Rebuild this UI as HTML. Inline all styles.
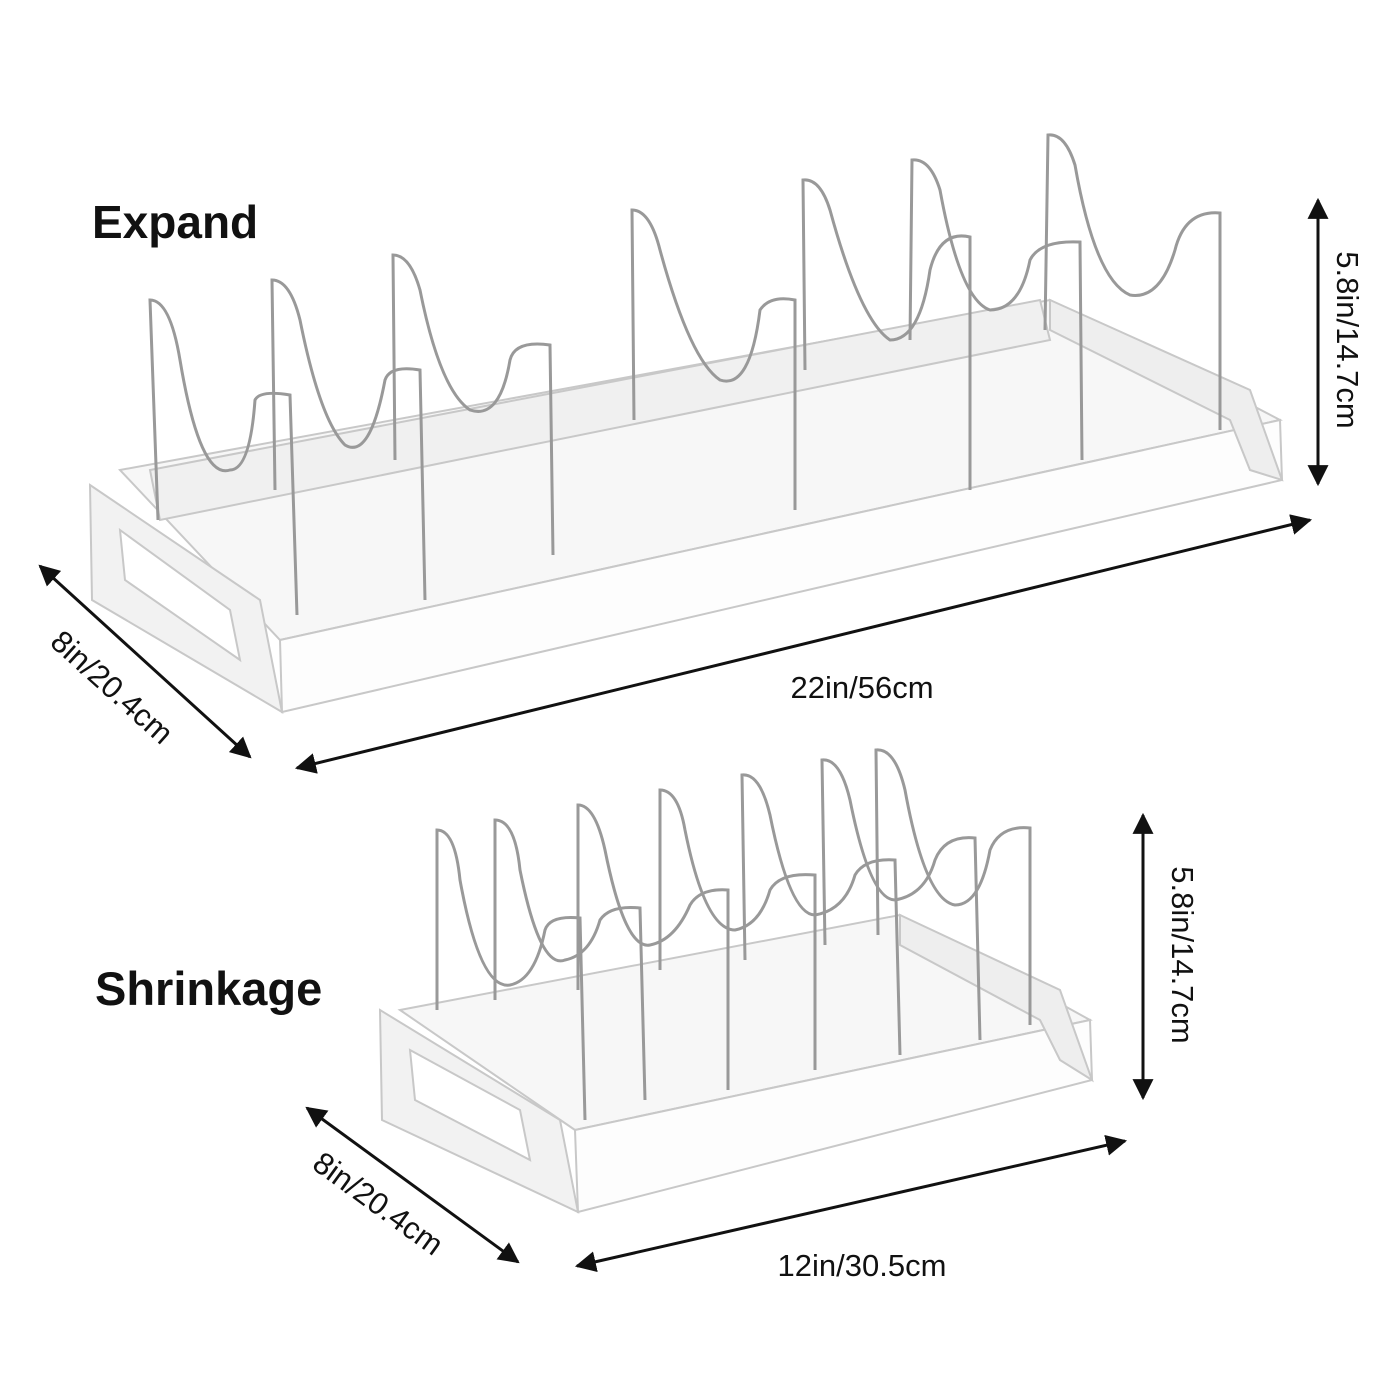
<!DOCTYPE html>
<html><head><meta charset="utf-8"><style>
html,body{margin:0;padding:0;background:#fff;}
svg{display:block}
text{font-family:"Liberation Sans",sans-serif;fill:#111}
</style></head><body>
<svg width="1400" height="1400" viewBox="0 0 1400 1400" xmlns="http://www.w3.org/2000/svg">
<defs>
<marker id="a" viewBox="0 0 10 10" refX="9" refY="5" markerWidth="7" markerHeight="7" orient="auto-start-reverse"><path d="M0,0 L10,5 L0,10 z" fill="#111"/></marker>
</defs>

<g stroke="#c8c8c8" stroke-width="2" fill="#fff">
  <polygon points="120,470 1050,300 1280,420 280,640" fill="#f7f7f7"/>
  <polygon points="280,640 1280,420 1282,480 282,712" fill="#fdfdfd"/>
  <polygon points="90,485 260,600 282,712 92,600" fill="#f2f2f2"/>
  <polygon points="120,530 230,610 240,660 125,580" fill="#fff"/>
  <polygon points="1050,300 1250,390 1282,480 1250,470 1230,420 1050,330" fill="#eee"/>
  <polygon points="150,470 1040,300 1050,340 160,520" fill="#f0f0f0"/>
</g>
<g stroke="#999" stroke-width="3" fill="none">
  <path d="M158,520 L150,300 Q170,300 180,360 Q200,480 230,470 Q250,470 255,400 Q260,390 290,395 L297,615"/>
  <path d="M275,490 L272,280 Q290,280 300,320 Q320,420 345,445 Q370,460 385,380 Q390,365 420,370 L425,600"/>
  <path d="M395,460 L393,255 Q410,255 420,290 Q440,390 470,410 Q500,420 510,360 Q515,340 550,345 L553,555"/>
  <path d="M634,420 L632,210 Q650,210 660,250 Q690,360 720,380 Q750,390 760,310 Q770,295 795,300 L795,510"/>
  <path d="M805,370 L803,180 Q820,178 830,210 Q860,320 890,340 Q920,340 930,270 Q940,230 970,237 L970,490"/>
  <path d="M910,340 L912,160 Q930,158 940,190 Q960,300 990,310 Q1020,310 1030,260 Q1040,240 1080,242 L1082,460"/>
  <path d="M1045,330 L1048,135 Q1065,133 1075,165 Q1095,280 1130,295 Q1160,300 1175,250 Q1185,210 1220,213 L1220,430"/>
</g>

<g stroke="#c8c8c8" stroke-width="2" fill="#fff">
  <polygon points="400,1010 900,915 1090,1020 575,1130" fill="#f7f7f7"/>
  <polygon points="575,1130 1090,1020 1092,1080 578,1212" fill="#fdfdfd"/>
  <polygon points="380,1010 560,1120 578,1212 382,1120" fill="#f2f2f2"/>
  <polygon points="410,1050 520,1110 530,1160 415,1100" fill="#fff"/>
  <polygon points="900,915 1060,990 1092,1080 1060,1060 1040,1020 900,945" fill="#eee"/>
</g>
<g stroke="#999" stroke-width="3" fill="none">
  <path d="M437,1010 L437,830 Q455,830 460,880 Q480,990 510,985 Q535,980 545,930 Q550,915 580,918 L585,1120"/>
  <path d="M495,1000 L495,820 Q515,820 520,870 Q540,970 565,960 Q590,955 600,920 Q610,905 640,908 L645,1100"/>
  <path d="M578,990 L578,805 Q595,805 605,850 Q625,950 650,945 Q675,940 690,905 Q700,888 728,890 L728,1090"/>
  <path d="M660,970 L660,790 Q678,790 685,830 Q705,930 735,930 Q760,925 770,890 Q780,872 815,875 L815,1070"/>
  <path d="M745,960 L742,775 Q760,773 770,815 Q790,915 815,915 Q845,910 855,875 Q865,858 895,860 L900,1055"/>
  <path d="M825,945 L822,760 Q840,758 850,800 Q870,900 895,900 Q925,895 935,860 Q945,835 975,838 L980,1040"/>
  <path d="M878,935 L876,750 Q895,748 905,790 Q925,900 955,905 Q980,905 990,850 Q1000,825 1030,828 L1030,1025"/>
</g>

<text x="92" y="238" font-size="46" font-weight="bold">Expand</text>
<text x="95" y="1005" font-size="47" font-weight="bold">Shrinkage</text>

<g stroke="#111" stroke-width="3" fill="none">
  <line x1="1318" y1="200" x2="1318" y2="484" marker-start="url(#a)" marker-end="url(#a)"/>
  <line x1="297" y1="768" x2="1310" y2="520" marker-start="url(#a)" marker-end="url(#a)"/>
  <line x1="40" y1="566" x2="250" y2="757" marker-start="url(#a)" marker-end="url(#a)"/>
  <line x1="1143" y1="815" x2="1143" y2="1098" marker-start="url(#a)" marker-end="url(#a)"/>
  <line x1="307" y1="1108" x2="518" y2="1262" marker-start="url(#a)" marker-end="url(#a)"/>
  <line x1="577" y1="1266" x2="1125" y2="1141" marker-start="url(#a)" marker-end="url(#a)"/>
</g>

<text x="862" y="698" font-size="31" text-anchor="middle">22in/56cm</text>
<text x="862" y="1276" font-size="31" text-anchor="middle">12in/30.5cm</text>
<text transform="translate(1337,340) rotate(90)" font-size="31" text-anchor="middle">5.8in/14.7cm</text>
<text transform="translate(1172,955) rotate(90)" font-size="31" text-anchor="middle">5.8in/14.7cm</text>
<text transform="translate(105,695) rotate(42)" font-size="31" text-anchor="middle">8in/20.4cm</text>
<text transform="translate(372,1212) rotate(36)" font-size="31" text-anchor="middle">8in/20.4cm</text>
</svg>
</body></html>
